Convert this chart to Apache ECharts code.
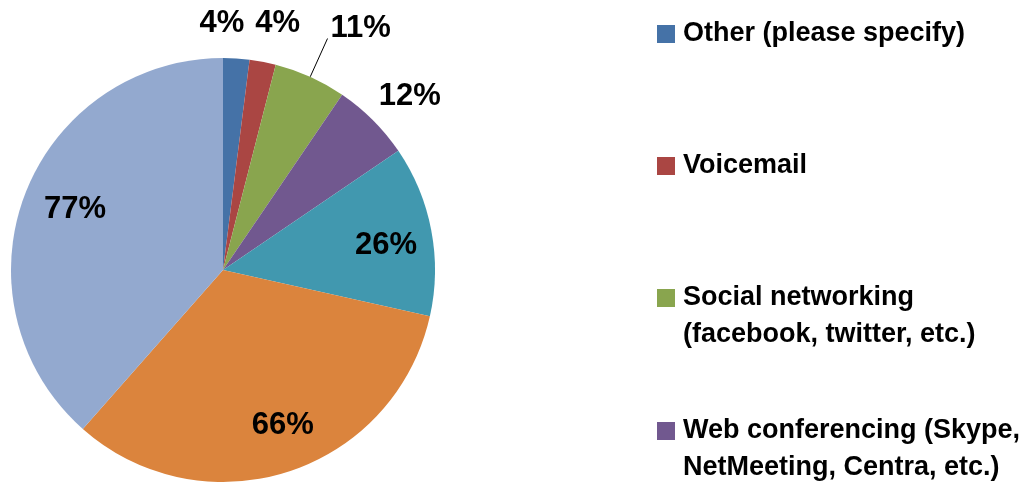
<!DOCTYPE html>
<html><head><meta charset="utf-8">
<script src="https://cdn.jsdelivr.net/npm/echarts@6/dist/echarts.min.js"></script>
<style>html,body{margin:0;padding:0;background:#fff}#c{width:1035px;height:483px}</style>
</head><body><div id="c"></div>
<script>
// ---- data ----
const categories = ['Other (please specify)', 'Voicemail', 'Social networking (facebook, twitter, etc.)',
  'Web conferencing (Skype, NetMeeting, Centra, etc.)', 'Instant messaging', 'Telephone', 'Email'];
const values = [4, 4, 11, 12, 26, 66, 77];
const legendLabels = ['Other (please specify)', 'Voicemail', 'Social networking\n(facebook, twitter, etc.)',
  'Web conferencing (Skype,\nNetMeeting, Centra, etc.)'];

// ---- styles ----
const colors = ['#4572A7', '#AA4643', '#89A54E', '#71588F', '#4198AF', '#DB843D', '#93A9CF'];
const FONT = "'Liberation Sans', Arial, sans-serif";
// per-slice label placement (style only)
const sliceLabel = [
  { pos: 'outside', len: 36, line: false, off: [-44, 1] },
  { pos: 'outside', len: 40, line: false, off: [-20, 1] },
  { pos: 'outside', len: 42, line: true, off: [-2, -10] },
  { pos: 'outside', len: 35, line: false, off: [-24, 1] },
  { pos: 'inside', off: [56, -4] },
  { pos: 'inside', off: [26, 52] },
  { pos: 'inside', off: [-46, -22] }
];
const legendTops = [15.5, 147.5, 279.5, 412.5];
const ICON_ONE = 'rect';
const ICON_TWO = 'path://M0,0h0.01v0.01h-0.01z M0,9.5h18v18h-18z M17.99,73.99h0.01v0.01h-0.01z';

const data = categories.map((name, i) => {
  const s = sliceLabel[i];
  const item = { name: name, value: values[i], itemStyle: { color: colors[i] },
    label: { position: s.pos } };
  if (s.pos === 'outside') item.labelLine = { show: s.line, length: s.len, length2: 0 };
  return item;
});

const legends = legendLabels.map((lab, i) => {
  const two = lab.indexOf('\n') >= 0;
  return {
    orient: 'vertical', left: 657, top: legendTops[i], padding: 0,
    itemWidth: 18, itemHeight: two ? 74 : 18, itemGap: 0, icon: two ? ICON_TWO : ICON_ONE,
    data: [categories[i]],
    formatter: () => lab,
    textStyle: { fontFamily: FONT, fontWeight: 'bold', fontSize: 27, lineHeight: 37, color: '#000',
      padding: [0, 0, 0, 3] }
  };
});

const chart = echarts.init(document.getElementById('c'), null, { renderer: 'canvas' });
chart.setOption({
  backgroundColor: '#fff',
  animation: false,
  legend: legends,
  series: [{
    type: 'pie',
    center: [223, 270],
    radius: 212,
    startAngle: 90,
    clockwise: true,
    avoidLabelOverlap: false,
    itemStyle: { borderWidth: 0 },
    label: { show: true, formatter: '{c}%', color: '#000', fontFamily: FONT, fontWeight: 'bold', fontSize: 31 },
    labelLine: { show: false, lineStyle: { color: '#000', width: 1 } },
    emphasis: { disabled: true },
    labelLayout: function (p) {
      const o = sliceLabel[p.dataIndex].off;
      return o ? { dx: o[0], dy: o[1] } : {};
    },
    data: data
  }]
});
</script></body></html>
